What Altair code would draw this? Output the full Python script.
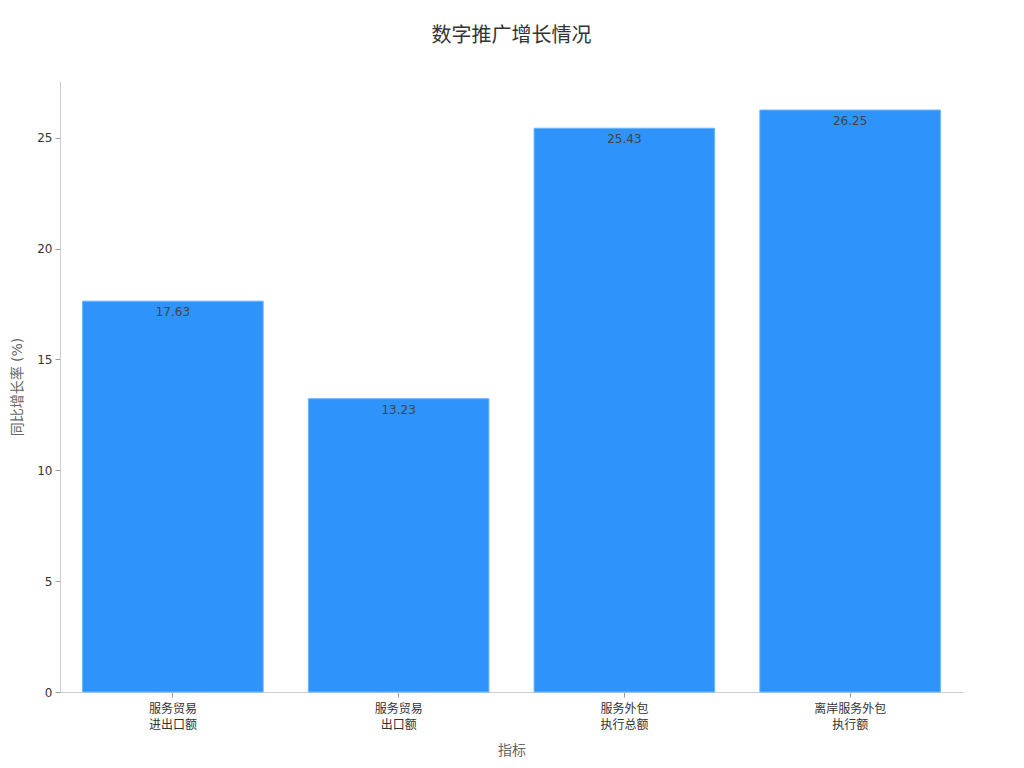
import altair as alt
import pandas as pd

categories = ["服务贸易\n进出口额", "服务贸易\n出口额", "服务外包\n执行总额", "离岸服务外包\n执行额"]
values = [17.63, 13.23, 25.43, 26.25]

df = pd.DataFrame({"cat": categories, "val": values})

FONT = "DejaVu Sans, Noto Sans CJK SC, sans-serif"

base = alt.Chart(df).encode(
    x=alt.X("cat:N", sort=None, title="指标",
            scale=alt.Scale(paddingInner=0.2, paddingOuter=0.1),
            axis=alt.Axis(labelAngle=0, labelExpr="split(datum.label, '\\n')",
                          labelFontSize=12, labelColor="#333", labelLineHeight=16,
                          domainColor="#cccccc", tickColor="#999", tickSize=5,
                          labelPadding=6, titleFontSize=14, titleColor="#666",
                          titleFontWeight="normal", titlePadding=13,
                          labelFont=FONT, titleFont=FONT)),
    y=alt.Y("val:Q", title="同比增长率 (%)",
            scale=alt.Scale(domain=[0, 27.56], nice=False),
            axis=alt.Axis(values=[0, 5, 10, 15, 20, 25], grid=False,
                          labelFontSize=12, labelColor="#333",
                          domainColor="#cccccc", tickColor="#999", tickSize=5,
                          labelPadding=3, titleFontSize=14, titleColor="#666",
                          titleFontWeight="normal", titlePadding=12,
                          labelFont=FONT, titleFont=FONT)),
)

bars = base.mark_bar(color="#2E93FA", stroke="#6BB6FF", strokeWidth=1)
labels = base.mark_text(baseline="top", dy=6, fontSize=12, color="#444", font=FONT).encode(
    text=alt.Text("val:Q", format=".2f")
)

chart = alt.layer(bars, labels).properties(
    width=903, height=611,
    title=alt.TitleParams("数字推广增长情况", fontSize=20, fontWeight="normal",
                          color="#333", font=FONT, anchor="middle", offset=35),
    autosize=alt.AutoSizeParams(type="none"),
    padding={"left": 52, "top": 73, "right": 53, "bottom": 68},
).configure_view(stroke=None)

chart.save("out.html", embed_options={"renderer": "svg", "actions": False})
